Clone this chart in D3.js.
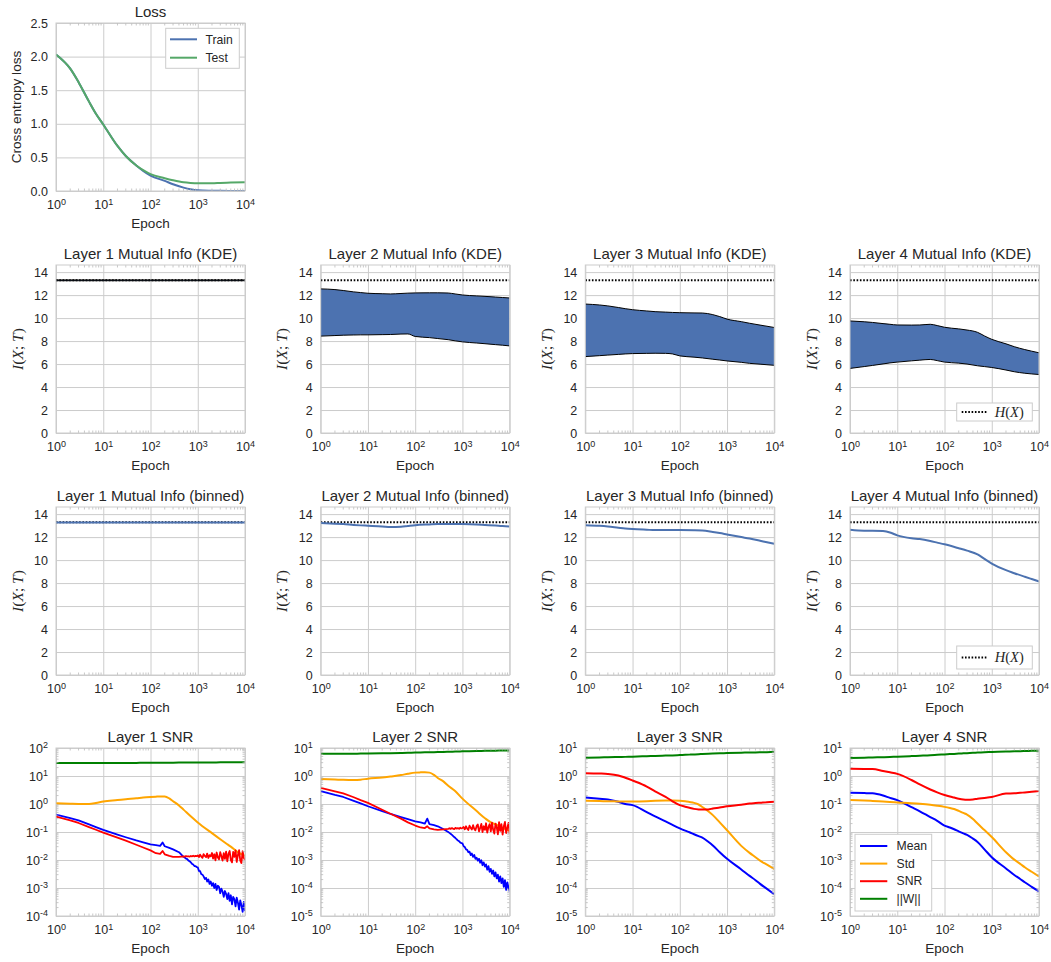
<!DOCTYPE html>
<html>
<head>
<meta charset="utf-8">
<script src="https://cdn.jsdelivr.net/npm/d3@7"></script>
<style>
  body { margin: 0; background: #fff; }
  svg { display: block; }
</style>
</head>
<body>
<svg id="fig" width="1051" height="962"></svg>
<script>
// ---------- data ----------
const epochTicks = [1, 10, 100, 1000, 10000];

// training loss
const lossEpochs = [1, 2, 3, 5, 7, 10, 20, 30, 50, 70, 100, 200, 300, 500, 700, 1000, 2000, 3000, 5000, 10000];
const lossTrain = [2.03, 1.82, 1.62, 1.33, 1.15, 0.99, 0.67, 0.52, 0.38, 0.30, 0.23, 0.15, 0.10, 0.05, 0.025, 0.01, 0.004, 0.002, 0.001, 0.0005];
const lossTest = [2.03, 1.82, 1.62, 1.33, 1.15, 0.99, 0.67, 0.52, 0.38, 0.31, 0.25, 0.19, 0.16, 0.13, 0.12, 0.115, 0.115, 0.12, 0.125, 0.132];
const lossTicks = [0, 0.5, 1.0, 1.5, 2.0, 2.5];

// mutual information (bits)
const entropyX = 13.29;
const miTicks = [0, 2, 4, 6, 8, 10, 12, 14];
const miEpochs = [1, 2, 3, 5, 7, 10, 20, 30, 50, 70, 100, 200, 300, 500, 700, 1000, 2000, 3000, 5000, 7000, 10000];

const kde1Upper = [13.32, 13.32, 13.32, 13.32, 13.32, 13.32, 13.32, 13.32, 13.32, 13.32, 13.32, 13.32, 13.32, 13.32, 13.32, 13.32, 13.32, 13.32, 13.32, 13.32, 13.32];
const kde1Lower = [13.25, 13.25, 13.25, 13.25, 13.25, 13.25, 13.25, 13.25, 13.25, 13.25, 13.25, 13.25, 13.25, 13.25, 13.25, 13.25, 13.25, 13.25, 13.25, 13.25, 13.25];
const kde2Upper = [12.54, 12.48, 12.40, 12.28, 12.22, 12.16, 12.12, 12.10, 12.14, 12.17, 12.19, 12.20, 12.20, 12.18, 12.10, 12.01, 11.93, 11.89, 11.83, 11.79, 11.75];
const kde2Lower = [8.43, 8.48, 8.51, 8.53, 8.54, 8.54, 8.56, 8.57, 8.61, 8.62, 8.40, 8.30, 8.22, 8.12, 8.02, 7.93, 7.83, 7.77, 7.69, 7.64, 7.58];
const kde3Upper = [11.22, 11.14, 11.06, 10.92, 10.82, 10.73, 10.62, 10.56, 10.52, 10.49, 10.47, 10.45, 10.44, 10.30, 10.13, 9.91, 9.69, 9.55, 9.39, 9.29, 9.18];
const kde3Lower = [6.65, 6.73, 6.78, 6.84, 6.88, 6.91, 6.93, 6.94, 6.93, 6.88, 6.71, 6.60, 6.53, 6.42, 6.35, 6.27, 6.15, 6.06, 5.99, 5.94, 5.89];
const kde4Upper = [9.75, 9.68, 9.62, 9.52, 9.46, 9.40, 9.39, 9.40, 9.46, 9.35, 9.20, 9.06, 8.96, 8.76, 8.45, 8.15, 7.76, 7.51, 7.26, 7.12, 6.98];
const kde4Lower = [5.62, 5.78, 5.88, 6.01, 6.10, 6.17, 6.28, 6.34, 6.40, 6.30, 6.17, 6.08, 6.00, 5.85, 5.78, 5.70, 5.48, 5.33, 5.20, 5.14, 5.09];

const bin1 = [13.28, 13.28, 13.28, 13.28, 13.28, 13.28, 13.28, 13.28, 13.28, 13.28, 13.28, 13.28, 13.28, 13.28, 13.28, 13.28, 13.28, 13.28, 13.28, 13.28, 13.28];
const bin2 = [13.22, 13.17, 13.13, 13.06, 13.02, 12.99, 12.93, 12.88, 12.90, 12.97, 13.04, 13.10, 13.13, 13.14, 13.14, 13.13, 13.09, 13.05, 13.00, 12.96, 12.93];
const bin3 = [13.04, 12.99, 12.93, 12.82, 12.75, 12.70, 12.64, 12.61, 12.61, 12.61, 12.61, 12.60, 12.58, 12.45, 12.35, 12.23, 12.00, 11.87, 11.68, 11.55, 11.42];
const bin4 = [12.64, 12.56, 12.56, 12.52, 12.40, 12.15, 11.90, 11.83, 11.66, 11.52, 11.37, 11.03, 10.82, 10.50, 10.10, 9.70, 9.12, 8.86, 8.55, 8.35, 8.14];

// gradient statistics
const snrEpochs = [1, 2, 3, 5, 7, 10, 20, 30, 50, 70, 100, 130, 160, 200, 250, 300, 400, 500, 700, 1000, 2000, 3000, 4000, 5000, 7000, 10000];
const snrNoisyEpochs = [1, 2, 3, 5, 7, 10, 20, 30, 50, 70, 100, 130, 160, 180, 200, 250, 300, 400,
  500, 530, 560, 600, 630, 670, 710, 750, 800, 850, 900, 950, 1000,
  1060, 1120, 1190, 1260, 1330, 1410, 1500, 1580, 1680, 1780, 1880, 2000,
  2110, 2240, 2370, 2510, 2660, 2820, 2990, 3160, 3350, 3550, 3760, 3980,
  4220, 4470, 4730, 5010, 5310, 5620, 5960, 6310, 6680, 7080, 7500, 7940, 8410, 8910, 9440, 10000];

const l1Mean = [0.417, 0.31, 0.26, 0.186, 0.15, 0.12, 0.081, 0.065, 0.05, 0.043, 0.036, 0.034, 0.032, 0.042, 0.031, 0.027, 0.024, 0.019,
  0.0130, 0.0124, 0.0113, 0.0107, 0.0097, 0.0091, 0.0083, 0.0074, 0.0069, 0.0061, 0.0060, 0.0056, 0.0055,
  0.0041, 0.0040, 0.0031, 0.0030, 0.0026, 0.0021, 0.0023, 0.0017, 0.0020, 0.0014, 0.0017, 0.0012,
  0.0015, 0.0010, 0.0014, 0.00085, 0.0012, 0.0011, 0.00065, 0.00095, 0.00075, 0.00048, 0.00078, 0.00062,
  0.00040, 0.00065, 0.00035, 0.00055, 0.00026, 0.00048, 0.00040, 0.00022, 0.00045, 0.00030, 0.00017, 0.00036, 0.00024, 0.00014, 0.00032, 0.00015];
const l1Snr = [0.355, 0.26, 0.21, 0.15, 0.12, 0.095, 0.063, 0.049, 0.035, 0.028, 0.022, 0.0175, 0.0165, 0.021, 0.016, 0.014, 0.013, 0.013,
  0.0135, 0.0132, 0.0138, 0.0134, 0.0136, 0.0131, 0.0139, 0.0135, 0.0142, 0.0134, 0.0140, 0.0137, 0.0146,
  0.0128, 0.0155, 0.0133, 0.0120, 0.0162, 0.0140, 0.0126, 0.0170, 0.0118, 0.0150, 0.0135, 0.0178,
  0.0112, 0.0160, 0.0098, 0.0185, 0.0125, 0.0105, 0.0190, 0.0140, 0.0095, 0.0175, 0.0110, 0.0200,
  0.0090, 0.0165, 0.0210, 0.0100, 0.0082, 0.0195, 0.0130, 0.0220, 0.0085, 0.0150, 0.0225, 0.0095, 0.0078, 0.0205, 0.0120, 0.0100];
const l1Std = [1.07, 1.02, 1.0, 1.0, 1.08, 1.23, 1.38, 1.48, 1.6, 1.7, 1.78, 1.83, 1.86, 1.85, 1.58, 1.26, 0.89, 0.63, 0.37, 0.22, 0.091, 0.055, 0.039, 0.030, 0.019, 0.014];
const l1Norm = [29, 29, 29, 29, 29, 29, 29.2, 29.3, 29.4, 29.5, 29.6, 29.7, 29.8, 29.9, 30, 30, 30.1, 30.2, 30.3, 30.4, 30.6, 30.7, 30.8, 30.9, 31, 31];

const l2Mean = [0.29, 0.21, 0.178, 0.13, 0.105, 0.083, 0.056, 0.044, 0.034, 0.029, 0.024, 0.022, 0.020, 0.030, 0.019, 0.0175, 0.016, 0.0125,
  0.0100, 0.0093, 0.0087, 0.0079, 0.0073, 0.0066, 0.0061, 0.0055, 0.0050, 0.0047, 0.0042, 0.0040, 0.0039,
  0.0031, 0.0029, 0.0024, 0.0023, 0.0019, 0.0020, 0.0015, 0.0017, 0.0013, 0.0015, 0.0011, 0.0012,
  0.00095, 0.0011, 0.00080, 0.00098, 0.00065, 0.00082, 0.00058, 0.00070, 0.00045, 0.00060, 0.00038, 0.00048,
  0.00032, 0.00042, 0.00026, 0.00036, 0.00022, 0.00030, 0.00017, 0.00026, 0.00015, 0.00022, 0.00011, 0.00019, 0.000085, 0.00016, 0.00010, 0.000075];
const l2Snr = [0.38, 0.284, 0.24, 0.174, 0.138, 0.11, 0.062, 0.045, 0.030, 0.022, 0.017, 0.0145, 0.0138, 0.016, 0.0135, 0.0125, 0.012, 0.0125,
  0.0130, 0.0136, 0.0129, 0.0138, 0.0132, 0.0127, 0.0140, 0.0133, 0.0137, 0.0130, 0.0142, 0.0134, 0.0139,
  0.0150, 0.0125, 0.0160, 0.0132, 0.0118, 0.0168, 0.0140, 0.0122, 0.0175, 0.0128, 0.0115, 0.0165,
  0.0185, 0.0105, 0.0140, 0.0195, 0.0100, 0.0160, 0.0120, 0.0205, 0.0095, 0.0150, 0.0190, 0.0105,
  0.0215, 0.0120, 0.0088, 0.0200, 0.0150, 0.0082, 0.0225, 0.0110, 0.0190, 0.0080, 0.0160, 0.0228, 0.0092, 0.0140, 0.0210, 0.0085];
const l2Std = [0.78, 0.75, 0.73, 0.72, 0.74, 0.80, 0.88, 0.96, 1.08, 1.2, 1.32, 1.35, 1.36, 1.32, 1.09, 0.85, 0.63, 0.45, 0.29, 0.156, 0.056, 0.031, 0.022, 0.019, 0.014, 0.011];
const l2Norm = [6.2, 6.2, 6.2, 6.25, 6.3, 6.35, 6.45, 6.5, 6.6, 6.7, 6.9, 6.95, 7.0, 7.05, 7.1, 7.15, 7.25, 7.3, 7.45, 7.6, 7.8, 7.9, 8.0, 8.05, 8.1, 8.2];

const l3Mean = [0.172, 0.155, 0.146, 0.12, 0.10, 0.091, 0.051, 0.036, 0.024, 0.018, 0.0135, 0.0112, 0.0098, 0.0083, 0.0071, 0.0063, 0.0045, 0.0033, 0.0019, 0.0011, 0.00046, 0.00027, 0.00019, 0.00014, 0.000093, 0.00006];
const l3Std = [0.13, 0.127, 0.125, 0.124, 0.123, 0.123, 0.126, 0.13, 0.132, 0.132, 0.13, 0.125, 0.118, 0.11, 0.096, 0.078, 0.055, 0.04, 0.022, 0.0115, 0.0032, 0.0018, 0.00126, 0.00095, 0.00068, 0.00048];
const l3Snr = [1.26, 1.23, 1.19, 1.05, 0.87, 0.69, 0.42, 0.28, 0.18, 0.125, 0.091, 0.080, 0.073, 0.067, 0.064, 0.063, 0.064, 0.069, 0.075, 0.083, 0.094, 0.104, 0.108, 0.111, 0.116, 0.12];
const l3Norm = [4.5, 4.6, 4.65, 4.75, 4.82, 4.9, 5.1, 5.2, 5.35, 5.45, 5.6, 5.7, 5.8, 5.9, 6.0, 6.1, 6.25, 6.35, 6.5, 6.6, 6.8, 6.9, 6.95, 7.0, 7.1, 7.2];

const l4Mean = [0.25, 0.245, 0.24, 0.2, 0.165, 0.138, 0.077, 0.055, 0.034, 0.025, 0.017, 0.0145, 0.0125, 0.0105, 0.0089, 0.0079, 0.0058, 0.0044, 0.0024, 0.00125, 0.0005, 0.00029, 0.00021, 0.00016, 0.00011, 0.000075];
const l4Std = [0.138, 0.133, 0.129, 0.123, 0.118, 0.114, 0.107, 0.102, 0.094, 0.087, 0.079, 0.072, 0.066, 0.057, 0.048, 0.042, 0.029, 0.02, 0.0118, 0.0066, 0.0019, 0.00103, 0.00073, 0.00055, 0.00038, 0.00026];
const l4Snr = [1.8, 1.78, 1.77, 1.51, 1.35, 1.19, 0.72, 0.50, 0.33, 0.26, 0.21, 0.185, 0.17, 0.155, 0.145, 0.142, 0.145, 0.155, 0.165, 0.178, 0.235, 0.24, 0.25, 0.26, 0.275, 0.29];
const l4Norm = [4.4, 4.5, 4.6, 4.7, 4.8, 4.9, 5.15, 5.3, 5.5, 5.7, 5.9, 6.05, 6.15, 6.3, 6.45, 6.55, 6.75, 6.85, 7.05, 7.2, 7.45, 7.6, 7.7, 7.75, 7.9, 8.0];

const snrLegend = ["Mean", "Std", "SNR", "||W||"];

// ---------- styling / layout ----------
const FONT = "'Liberation Sans', Arial, sans-serif";
const SERIF = "'Liberation Serif', 'Times New Roman', serif";
const TEXT = "#262626";
const GRID = "#cccccc";
const DEEP_BLUE = "#4C72B0";
const DEEP_GREEN = "#55A868";
const SNR_COLORS = { mean: "blue", std: "orange", snr: "red", norm: "green" };

const W = 189, H = 168;
const colLeft = [56, 320.7, 585.3, 850];
const rowTop = [23, 265, 507, 748];

const svg = d3.select("#fig");
svg.append("rect").attr("width", 1051).attr("height", 962).attr("fill", "#fff");

let clipCount = 0;

function powerLabel(textSel, d) {
  const e = Math.round(Math.log10(d));
  textSel.text(null);
  textSel.append("tspan").text("10");
  textSel.append("tspan").attr("dy", "-0.45em").attr("font-size", "9px").text(e < 0 ? "-" + (-e) : e);
}

function minorValues(lo, hi) {
  const out = [];
  for (let k = Math.round(Math.log10(lo)); k < Math.round(Math.log10(hi)); k++) {
    for (let m = 2; m <= 9; m++) out.push(m * Math.pow(10, k));
  }
  return out;
}

function mathText(sel, parts) {
  parts.forEach(p => {
    sel.append("tspan").attr("font-style", p.i ? "italic" : "normal").text(p.t);
  });
}

function panel(col, row, cfg) {
  const left = colLeft[col], top = rowTop[row];
  const x = d3.scaleLog().domain([1, 1e4]).range([left, left + W]);
  const y = (cfg.log ? d3.scaleLog() : d3.scaleLinear()).domain(cfg.yDomain).range([top + H, top]);
  const g = svg.append("g");

  // x axis: grid lines and labels
  const xa = g.append("g").attr("transform", `translate(0,${top + H})`)
    .call(d3.axisBottom(x).tickValues(epochTicks).tickSize(-H).tickPadding(9));
  xa.select(".domain").remove();
  xa.selectAll(".tick line").attr("stroke", GRID).attr("stroke-width", 1);
  xa.selectAll(".tick text").attr("fill", TEXT).attr("font-family", FONT).attr("font-size", 12.5)
    .each(function (d) { powerLabel(d3.select(this), d); });

  // y axis: grid lines and labels
  const ya = g.append("g").attr("transform", `translate(${left},0)`)
    .call(d3.axisLeft(y).tickValues(cfg.yTicks).tickSize(-W).tickPadding(8)
      .tickFormat(cfg.yFormat || (d => d)));
  ya.select(".domain").remove();
  ya.selectAll(".tick line").attr("stroke", GRID).attr("stroke-width", 1);
  ya.selectAll(".tick text").attr("fill", TEXT).attr("font-family", FONT).attr("font-size", 12.5);
  if (cfg.log) ya.selectAll(".tick text").each(function (d) { powerLabel(d3.select(this), d); });

  // data layer, clipped to the axes box
  const id = "clip" + (clipCount++);
  svg.append("clipPath").attr("id", id).append("rect")
    .attr("x", left).attr("y", top).attr("width", W).attr("height", H);
  const data = g.append("g").attr("clip-path", `url(#${id})`);

  // frame with small minor ticks
  const frame = g.append("g");
  const xm = minorValues(1, 1e4);
  frame.selectAll("line.xmb").data(xm).join("line")
    .attr("x1", d => x(d)).attr("x2", d => x(d)).attr("y1", top + H).attr("y2", top + H - 2.5)
    .attr("stroke", "#b0b0b0").attr("stroke-width", 0.7);
  frame.selectAll("line.xmt").data(xm).join("line")
    .attr("x1", d => x(d)).attr("x2", d => x(d)).attr("y1", top).attr("y2", top + 2.5)
    .attr("stroke", "#b0b0b0").attr("stroke-width", 0.7);
  if (cfg.log) {
    const ym = minorValues(cfg.yDomain[0], cfg.yDomain[1]);
    frame.selectAll("line.yml").data(ym).join("line")
      .attr("x1", left).attr("x2", left + 2.5).attr("y1", d => y(d)).attr("y2", d => y(d))
      .attr("stroke", "#b0b0b0").attr("stroke-width", 0.7);
    frame.selectAll("line.ymr").data(ym).join("line")
      .attr("x1", left + W).attr("x2", left + W - 2.5).attr("y1", d => y(d)).attr("y2", d => y(d))
      .attr("stroke", "#b0b0b0").attr("stroke-width", 0.7);
  }
  frame.append("rect").attr("x", left).attr("y", top).attr("width", W).attr("height", H)
    .attr("fill", "none").attr("stroke", GRID).attr("stroke-width", 1);

  // title and axis labels
  g.append("text").attr("x", left + W / 2).attr("y", top - 6).attr("text-anchor", "middle")
    .attr("font-family", FONT).attr("font-size", 15).attr("fill", TEXT).text(cfg.title);
  g.append("text").attr("x", left + W / 2).attr("y", top + H + 37).attr("text-anchor", "middle")
    .attr("font-family", FONT).attr("font-size", 13.5).attr("fill", TEXT).text("Epoch");
  if (cfg.ylabel === "mi") {
    const t = g.append("text").attr("transform", `translate(${left - 33.5},${top + H / 2}) rotate(-90)`)
      .attr("text-anchor", "middle").attr("font-family", SERIF).attr("font-size", 15.5).attr("fill", TEXT);
    mathText(t, [{ t: "I", i: 1 }, { t: "(", i: 0 }, { t: "X", i: 1 }, { t: "; ", i: 0 }, { t: "T", i: 1 }, { t: ")", i: 0 }]);
  } else if (cfg.ylabel) {
    g.append("text").attr("transform", `translate(${left - 35},${top + H / 2}) rotate(-90)`)
      .attr("text-anchor", "middle").attr("font-family", FONT).attr("font-size", 13.6).attr("fill", TEXT)
      .text(cfg.ylabel);
  }
  return { g, data, x, y, left, top };
}

function drawLine(p, xs, ys, color, width, curve, extra) {
  const pts = xs.map((e, i) => [e, ys[i]]);
  const path = p.data.append("path").datum(pts)
    .attr("fill", "none").attr("stroke", color).attr("stroke-width", width)
    .attr("stroke-linejoin", "round").attr("stroke-linecap", "butt")
    .attr("d", d3.line().x(d => p.x(d[0])).y(d => p.y(d[1])).curve(curve || d3.curveMonotoneX));
  if (extra) extra(path);
  return path;
}

const DOTS = "1.6 1.7";
function drawEntropy(p) {
  drawLine(p, [1, 1e4], [entropyX, entropyX], "#000", 1.8, d3.curveLinear,
    s => s.attr("stroke-dasharray", DOTS));
}

function legendBox(x0, y0, w, h) {
  svg.append("rect").attr("x", x0).attr("y", y0).attr("width", w).attr("height", h)
    .attr("fill", "#fff").attr("stroke", GRID).attr("stroke-width", 1);
}

// ---------- row 0: loss ----------
const pl = panel(0, 0, {
  yDomain: [0, 2.5], yTicks: lossTicks, yFormat: d3.format(".1f"),
  title: "Loss", ylabel: "Cross entropy loss"
});
drawLine(pl, lossEpochs, lossTrain, DEEP_BLUE, 2);
drawLine(pl, lossEpochs, lossTest, DEEP_GREEN, 2);
legendBox(165.7, 28.3, 73.6, 40);
[["Train", DEEP_BLUE, 39.3], ["Test", DEEP_GREEN, 57.7]].forEach(([lab, c, yy]) => {
  svg.append("line").attr("x1", 170).attr("x2", 197).attr("y1", yy).attr("y2", yy)
    .attr("stroke", c).attr("stroke-width", 2);
  svg.append("text").attr("x", 205.5).attr("y", yy + 4.2).attr("font-family", FONT)
    .attr("font-size", 12.2).attr("fill", TEXT).text(lab);
});

// ---------- row 1: KDE mutual information ----------
const kdeBands = [[kde1Upper, kde1Lower], [kde2Upper, kde2Lower], [kde3Upper, kde3Lower], [kde4Upper, kde4Lower]];
kdeBands.forEach(([up, lo], i) => {
  const p = panel(i, 1, {
    yDomain: [0, entropyX * 1.1], yTicks: miTicks,
    title: `Layer ${i + 1} Mutual Info (KDE)`, ylabel: "mi"
  });
  drawEntropy(p);
  const pts = miEpochs.map((e, j) => [e, lo[j], up[j]]);
  p.data.append("path").datum(pts).attr("fill", DEEP_BLUE).attr("stroke", "none")
    .attr("d", d3.area().x(d => p.x(d[0])).y0(d => p.y(d[1])).y1(d => p.y(d[2])).curve(d3.curveMonotoneX));
  drawLine(p, miEpochs, up, "#000", 1);
  drawLine(p, miEpochs, lo, "#000", 1);
});

// ---------- row 2: binned mutual information ----------
[bin1, bin2, bin3, bin4].forEach((vals, i) => {
  const p = panel(i, 2, {
    yDomain: [0, entropyX * 1.1], yTicks: miTicks,
    title: `Layer ${i + 1} Mutual Info (binned)`, ylabel: "mi"
  });
  drawEntropy(p);
  drawLine(p, miEpochs, vals, DEEP_BLUE, 2);
});

// H(X) legends on the last column
function entropyLegend(x0, y0, w, h) {
  legendBox(x0, y0, w, h);
  const yy = y0 + h / 2;
  svg.append("line").attr("x1", x0 + 5).attr("x2", x0 + 31).attr("y1", yy).attr("y2", yy)
    .attr("stroke", "#000").attr("stroke-width", 1.8).attr("stroke-dasharray", DOTS);
  const t = svg.append("text").attr("x", x0 + 38).attr("y", yy + 4.5)
    .attr("font-family", SERIF).attr("font-size", 14.5).attr("fill", TEXT);
  mathText(t, [{ t: "H", i: 1 }, { t: "(", i: 0 }, { t: "X", i: 1 }, { t: ")", i: 0 }]);
}
entropyLegend(956.7, 403, 75.6, 18);
entropyLegend(956.7, 646, 75.6, 23);

// ---------- row 3: gradient SNR ----------
const snrLayers = [
  { mean: l1Mean, snr: l1Snr, std: l1Std, norm: l1Norm, noisy: true, dom: [1e-4, 1e2] },
  { mean: l2Mean, snr: l2Snr, std: l2Std, norm: l2Norm, noisy: true, dom: [1e-5, 1e1] },
  { mean: l3Mean, snr: l3Snr, std: l3Std, norm: l3Norm, noisy: false, dom: [1e-5, 1e1] },
  { mean: l4Mean, snr: l4Snr, std: l4Std, norm: l4Norm, noisy: false, dom: [1e-5, 1e1] }
];
snrLayers.forEach((L, i) => {
  const lo = Math.round(Math.log10(L.dom[0])), hi = Math.round(Math.log10(L.dom[1]));
  const ticks = d3.range(lo, hi + 1).map(k => Math.pow(10, k));
  const p = panel(i, 3, { log: true, yDomain: L.dom, yTicks: ticks, title: `Layer ${i + 1} SNR` });
  const ex = L.noisy ? snrNoisyEpochs : snrEpochs;
  const cv = L.noisy ? d3.curveLinear : d3.curveMonotoneX;
  const w = L.noisy ? 1.8 : 2;
  drawLine(p, ex, L.mean, SNR_COLORS.mean, w, cv);
  drawLine(p, snrEpochs, L.std, SNR_COLORS.std, 2);
  drawLine(p, ex, L.snr, SNR_COLORS.snr, w, cv);
  drawLine(p, snrEpochs, L.norm, SNR_COLORS.norm, 2);
});

// SNR legend
legendBox(855, 834.3, 76.7, 76.7);
const legendColors = [SNR_COLORS.mean, SNR_COLORS.std, SNR_COLORS.snr, SNR_COLORS.norm];
snrLegend.forEach((lab, i) => {
  const yy = 846 + i * 17.6;
  svg.append("line").attr("x1", 860).attr("x2", 887.3).attr("y1", yy).attr("y2", yy)
    .attr("stroke", legendColors[i]).attr("stroke-width", 2);
  svg.append("text").attr("x", 896.5).attr("y", yy + 4.2).attr("font-family", FONT)
    .attr("font-size", 12.2).attr("fill", TEXT).text(lab);
});
</script>
</body>
</html>
